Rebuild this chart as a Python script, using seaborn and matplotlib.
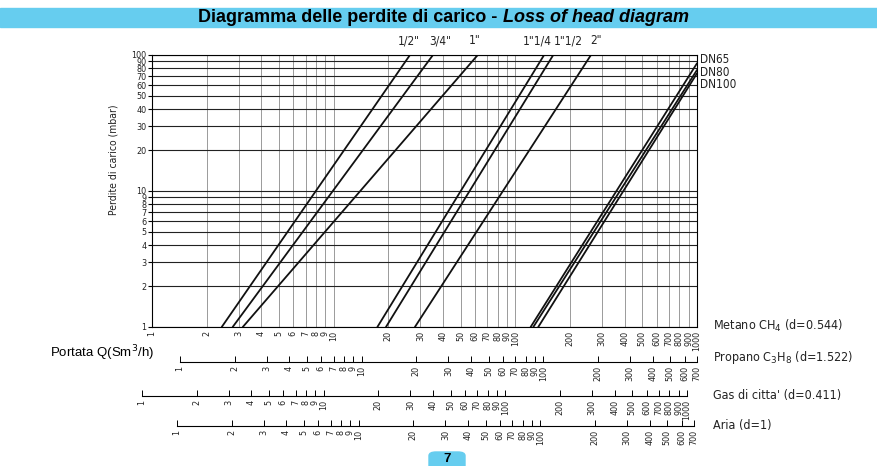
import numpy as np
import pandas as pd
import matplotlib
matplotlib.use("Agg")
import matplotlib.pyplot as plt
from matplotlib.ticker import NullLocator
from matplotlib.patches import Rectangle, FancyBboxPatch
import seaborn as sns

# ---------------- data ----------------
sizes = ['1/2"', '3/4"', '1"', '1"1/4', '1"1/2', '2"', 'DN65', 'DN80', 'DN100']
q_start = [2.42, 2.78, 3.16, 17.4, 19.4, 28.0, 121.4, 125.6, 133.7]   # Q metano at 1 mbar
q_end = [26.3, 35.2, 62.1, 144.0, 161.7, 260.8, 1000, 1000, 1000]
p_end = [100, 100, 100, 100, 100, 100, 86.9, 77.6, 73.3]

y_ticks = [1, 2, 3, 4, 5, 6, 7, 8, 9, 10, 20, 30, 40, 50, 60, 70, 80, 90, 100]
metano_ticks = [1, 2, 3, 4, 5, 6, 7, 8, 9, 10, 20, 30, 40, 50, 60, 70, 80, 90, 100,
                200, 300, 400, 500, 600, 700, 800, 900, 1000]
propano_ticks = [1, 2, 3, 4, 5, 6, 7, 8, 9, 10, 20, 30, 40, 50, 60, 70, 80, 90, 100,
                 200, 300, 400, 500, 600, 700]
gas_ticks = [1, 2, 3, 4, 5, 6, 7, 8, 9, 10, 20, 30, 40, 50, 60, 70, 80, 90, 100,
             200, 300, 400, 500, 600, 700, 800, 900, 1000]
aria_ticks = [1, 2, 3, 4, 5, 6, 7, 8, 9, 10, 20, 30, 40, 50, 60, 70, 80, 90, 100,
              200, 300, 400, 500, 600, 700]

top_labels = ['1/2"', '3/4"', '1"', '1"1/4', '1"1/2', '2"']
dn_labels = ['DN65', 'DN80', 'DN100']
scale_names = ['Metano CH$_4$ (d=0.544)', 'Propano C$_3$H$_8$ (d=1.522)',
               "Gas di citta' (d=0.411)", 'Aria (d=1)']

# ---------------- figure ----------------
sns.set_style("white")
plt.rcParams['font.family'] = ['DejaVu Sans']
plt.rcParams['mathtext.fontset'] = 'dejavusans'
plt.rcParams['text.color'] = 'black'
plt.rcParams['axes.labelcolor'] = 'black'
plt.rcParams['xtick.color'] = 'black'
plt.rcParams['ytick.color'] = 'black'

W, H = 878, 466
fig = plt.figure(figsize=(W / 100, H / 100), dpi=100)


def fx(px):
    return px / W


def fy(py):
    return 1 - py / H


X0, X1, Y0, Y1 = 152, 697, 55, 327
DEC = (X1 - X0) / 3.0
LBL = dict(family='DejaVu Sans', stretch='condensed', color='#222222')

ax = fig.add_axes([fx(X0), fy(Y1), (X1 - X0) / W, (Y1 - Y0) / H])
ax.set_xscale('log')
ax.set_yscale('log')

rows = []
for s, a, b, p in zip(sizes, q_start, q_end, p_end):
    rows.append((s, a, 1.0))
    rows.append((s, b, p))
df = pd.DataFrame(rows, columns=['size', 'Q', 'dp'])
sns.lineplot(data=df, x='Q', y='dp', units='size', estimator=None, sort=False,
             color='#111111', lw=1.3, ax=ax, legend=False)

ax.set_xlim(1, 1000)
ax.set_ylim(1, 100)
ax.set_xticks(metano_ticks)
ax.set_xticklabels([str(t) for t in metano_ticks])
ax.set_yticks(y_ticks)
ax.set_yticklabels([str(t) for t in y_ticks])
ax.xaxis.set_minor_locator(NullLocator())
ax.yaxis.set_minor_locator(NullLocator())
ax.grid(axis='x', color='#9a9a9a', lw=0.7)
ax.grid(axis='y', color='#222222', lw=0.8)
ax.tick_params(axis='x', length=0, labelrotation=90, labelsize=6.5, pad=3,
               labelcolor='#222222')
ax.tick_params(axis='y', length=3, direction='out', labelsize=6.5, pad=1, left=True,
               labelcolor='#222222')
for lab in ax.get_xticklabels() + ax.get_yticklabels():
    lab.set_fontstretch('condensed')
for sp in ax.spines.values():
    sp.set_color('black')
    sp.set_linewidth(0.8)
ax.set_xlabel('')
ax.set_ylabel('')
fig.text(fx(113), fy(160), 'Perdite di carico (mbar)', rotation=90, ha='center',
         va='center', fontsize=7.5, **LBL)


def scale_axis(py, offset_px, ticks, vmax, a=130, b=700):
    sax = fig.add_axes([fx(a), fy(py), (b - a) / W, 0.0001])
    lo = 10 ** ((a - X0 - offset_px) / DEC)
    hi = 10 ** ((b - X0 - offset_px) / DEC)
    sax.set_xscale('log')
    sax.set_xlim(lo, hi)
    for s in ['top', 'left', 'right']:
        sax.spines[s].set_visible(False)
    sax.spines['bottom'].set_bounds(1, vmax)
    sax.spines['bottom'].set_color('black')
    sax.spines['bottom'].set_linewidth(0.8)
    sax.set_yticks([])
    sax.set_xticks(ticks)
    sax.set_xticklabels([str(t) for t in ticks])
    sax.xaxis.set_minor_locator(NullLocator())
    sax.tick_params(axis='x', direction='in', length=4, width=0.7, labelrotation=90,
                    labelsize=6.5, pad=3, bottom=True, labelcolor='#222222')
    for lab in sax.get_xticklabels():
        lab.set_fontstretch('condensed')
    sax.patch.set_visible(False)
    return sax


scale_axis(362, 28, propano_ticks, 700)
scale_axis(396, -10, gas_ticks, 1000)
scale_axis(426, 25, aria_ticks, 700)

# ---------------- texts ----------------
fig.patches.append(Rectangle((0, fy(27)), 1, (27 - 8) / H, transform=fig.transFigure,
                             color='#66CDEF', zorder=0))
fig.text(fx(497), fy(17.5), 'Diagramma delle perdite di carico -', ha='right', va='center',
         fontsize=13, fontweight='bold', family='Liberation Sans', color='black')
fig.text(fx(503), fy(17.5), 'Loss of head diagram', ha='left', va='center',
         fontsize=13, fontweight='bold', style='italic', family='Liberation Sans',
         color='black')

for lab, x in zip(top_labels, [409, 440, 475, 537, 568, 596]):
    fig.text(fx(x), fy(41), lab, ha='center', va='center', fontsize=8.5, **LBL)
for lab, y in zip(dn_labels, [60, 72, 84]):
    fig.text(fx(700), fy(y), lab, ha='left', va='center', fontsize=8.5, **LBL)
for lab, y in zip(scale_names, [326, 358, 395, 425]):
    fig.text(fx(713), fy(y), lab, ha='left', va='center', fontsize=9, **LBL)

fig.text(fx(50), fy(353), 'Portata Q(Sm$^3$/h)', ha='left', va='center', fontsize=9.5,
         family='Liberation Sans', color='black')

fig.patches.append(FancyBboxPatch((fx(429), fy(470)), (465 - 429) / W, (470 - 452) / H,
                                  boxstyle='round,pad=0,rounding_size=0.008',
                                  transform=fig.transFigure, color='#66CDEF', zorder=0))
fig.text(fx(447), fy(458.5), '7', ha='center', va='center', fontsize=9.5, fontweight='bold',
         family='Liberation Sans', color='black')

fig.savefig('out.png', dpi=100)
